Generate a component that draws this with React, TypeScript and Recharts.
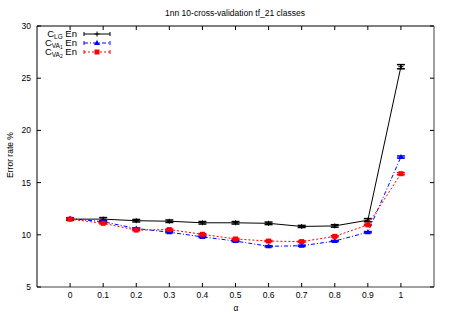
import { LineChart, Line, XAxis, YAxis, ErrorBar, ReferenceLine } from 'recharts';

const alphas = [0, 0.1, 0.2, 0.3, 0.4, 0.5, 0.6, 0.7, 0.8, 0.9, 1];
const lgEn = [11.5, 11.5, 11.35, 11.3, 11.15, 11.15, 11.1, 10.8, 10.85, 11.4, 26.1];
const lgErr = [0.12, 0.15, 0.12, 0.12, 0.12, 0.12, 0.12, 0.1, 0.12, 0.15, 0.2];
const va1En = [11.55, 11.25, 10.6, 10.25, 9.8, 9.4, 8.9, 8.95, 9.4, 10.25, 17.45];
const va1Err = [0.06, 0.06, 0.06, 0.06, 0.06, 0.06, 0.06, 0.06, 0.06, 0.06, 0.1];
const va2En = [11.5, 11.1, 10.45, 10.5, 10.05, 9.6, 9.4, 9.35, 9.85, 10.95, 15.85];
const va2Err = [0.06, 0.06, 0.06, 0.06, 0.06, 0.06, 0.06, 0.06, 0.06, 0.06, 0.1];
const yTicks = [5, 10, 15, 20, 25, 30];

const data = alphas.map((a, i) => ({
  a,
  lg: lgEn[i],
  lgErr: lgErr[i],
  va1: va1En[i],
  va1Err: va1Err[i],
  va2: va2En[i],
  va2Err: va2Err[i],
}));

const PLOT = { left: 37, right: 434, top: 26, bottom: 287 };
const FONT = '"Liberation Sans", Arial, sans-serif';
const BLUE = '#0000ff';
const RED = '#ff0000';

const XTick = (props: any) => {
  const { x, payload } = props;
  return (
    <g>
      <line x1={x} x2={x} y1={PLOT.bottom} y2={PLOT.bottom - 4} stroke="#000" />
      <line x1={x} x2={x} y1={PLOT.top} y2={PLOT.top + 4} stroke="#000" />
      <text x={x} y={298} textAnchor="middle" fontSize={8.5} fontFamily={FONT} fill="#000">
        {String(payload.value)}
      </text>
    </g>
  );
};

const YTick = (props: any) => {
  const { y, payload } = props;
  return (
    <g>
      <line x1={PLOT.left} x2={PLOT.left + 4} y1={y} y2={y} stroke="#000" />
      <line x1={PLOT.right} x2={PLOT.right - 4} y1={y} y2={y} stroke="#000" />
      <text x={31} y={y + 3} textAnchor="end" fontSize={8.5} fontFamily={FONT} fill="#000">
        {payload.value}
      </text>
    </g>
  );
};

const plusDot = (p: any) => (
  <g key={p.key}>
    <line x1={p.cx - 2.5} x2={p.cx + 2.5} y1={p.cy} y2={p.cy} stroke="#000" />
    <line x1={p.cx} x2={p.cx} y1={p.cy - 2.5} y2={p.cy + 2.5} stroke="#000" />
  </g>
);

const triDot = (p: any) => (
  <path
    key={p.key}
    d={`M${p.cx},${p.cy - 3} L${p.cx + 3},${p.cy + 2} L${p.cx - 3},${p.cy + 2} Z`}
    fill={BLUE}
  />
);

const sqDot = (p: any) => (
  <rect key={p.key} x={p.cx - 2.5} y={p.cy - 2.5} width={5} height={5} fill={RED} />
);

const Overlay = () => (
  <svg
    width={450}
    height={315}
    style={{ position: 'absolute', left: 0, top: 0, pointerEvents: 'none' }}
  >
    <text x={235} y={16} textAnchor="middle" fontSize={8.5} fontFamily={FONT}>
      1nn 10-cross-validation tf_21 classes
    </text>
    <text x={13} y={155} textAnchor="middle" fontSize={8.5} fontFamily={FONT} transform="rotate(-90 13 155)">
      Error rate %
    </text>
    <text x={236} y={311} textAnchor="middle" fontSize={8.5} fontFamily={FONT}>
      α
    </text>

    <g fontFamily={FONT} fontSize={9.5}>
      <text x={77} y={37} textAnchor="end">
        <tspan>C</tspan>
        <tspan dy={2} fontSize={6.5}>LG</tspan>
        <tspan dy={-2}> En</tspan>
      </text>
      <line x1={84} x2={110} y1={34} y2={34} stroke="#000" />
      <line x1={84} x2={84} y1={32} y2={36} stroke="#000" />
      <line x1={110} x2={110} y1={32} y2={36} stroke="#000" />
      <line x1={94.5} x2={99.5} y1={34} y2={34} stroke="#000" />
      <line x1={97} x2={97} y1={31.5} y2={36.5} stroke="#000" />

      <text x={77} y={45.5} textAnchor="end">
        <tspan>C</tspan>
        <tspan dy={2} fontSize={6.5}>VA</tspan>
        <tspan dy={1.5} fontSize={5}>1</tspan>
        <tspan dy={-3.5}> En</tspan>
      </text>
      <line x1={84} x2={110} y1={43} y2={43} stroke={BLUE} strokeDasharray="4 2 1 2" />
      <line x1={84} x2={84} y1={41} y2={45} stroke={BLUE} />
      <line x1={110} x2={110} y1={41} y2={45} stroke={BLUE} />
      <path d="M97,40 L100,45 L94,45 Z" fill={BLUE} />

      <text x={77} y={54.5} textAnchor="end">
        <tspan>C</tspan>
        <tspan dy={2} fontSize={6.5}>VA</tspan>
        <tspan dy={1.5} fontSize={5}>2</tspan>
        <tspan dy={-3.5}> En</tspan>
      </text>
      <line x1={84} x2={110} y1={52} y2={52} stroke={RED} strokeDasharray="2 2" />
      <line x1={84} x2={84} y1={50} y2={54} stroke={RED} />
      <line x1={110} x2={110} y1={50} y2={54} stroke={RED} />
      <rect x={94.5} y={49.5} width={5} height={5} fill={RED} />
    </g>
  </svg>
);

export default function App() {
  return (
    <div style={{ position: 'absolute', left: 0, top: 0, width: 450, height: 315, background: '#fff' }}>
      <LineChart
        width={450}
        height={315}
        data={data}
        margin={{ top: 26, right: 16, bottom: 0, left: 7 }}
      >
        <XAxis
          dataKey="a"
          type="number"
          domain={[-0.1, 1.1]}
          ticks={alphas}
          interval={0}
          allowDataOverflow
          height={28}
          tickLine={false}
          tick={<XTick />}
          axisLine={{ stroke: '#808080', strokeWidth: 1.5 }}
        />
        <YAxis
          type="number"
          domain={[5, 30]}
          ticks={yTicks}
          interval={0}
          allowDataOverflow
          width={30}
          tickLine={false}
          tick={<YTick />}
          axisLine={{ stroke: '#000' }}
        />
        <ReferenceLine y={30} stroke="#000" ifOverflow="visible" />
        <ReferenceLine x={1.1} stroke="#808080" strokeWidth={1.5} ifOverflow="visible" />
        <Line
          dataKey="lg"
          stroke="#000"
          strokeWidth={1}
          dot={plusDot}
          activeDot={false}
          isAnimationActive={false}
        >
          <ErrorBar dataKey="lgErr" width={4} stroke="#000" direction="y" isAnimationActive={false} />
        </Line>
        <Line
          dataKey="va1"
          stroke={BLUE}
          strokeWidth={1}
          strokeDasharray="4 2 1 2"
          dot={triDot}
          activeDot={false}
          isAnimationActive={false}
        >
          <ErrorBar dataKey="va1Err" width={4} stroke={BLUE} direction="y" isAnimationActive={false} />
        </Line>
        <Line
          dataKey="va2"
          stroke={RED}
          strokeWidth={1}
          strokeDasharray="2 2"
          dot={sqDot}
          activeDot={false}
          isAnimationActive={false}
        >
          <ErrorBar dataKey="va2Err" width={4} stroke={RED} direction="y" isAnimationActive={false} />
        </Line>
      </LineChart>
      <Overlay />
    </div>
  );
}
